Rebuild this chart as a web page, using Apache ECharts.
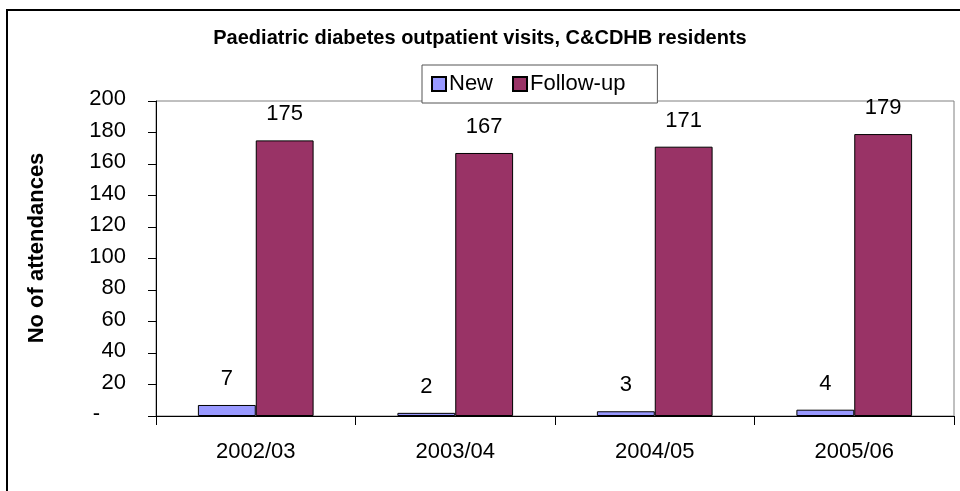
<!DOCTYPE html>
<html>
<head>
<meta charset="utf-8">
<title>Paediatric diabetes outpatient visits</title>
<script src="https://cdn.jsdelivr.net/npm/echarts@6/dist/echarts.min.js"></script>
<style>
  html, body { margin: 0; padding: 0; background: #fff; }
  #chart { width: 960px; height: 491px; }
</style>
</head>
<body>
<div id="chart"></div>
<script>
// Financial years on the category axis
const years = ['2002/03', '2003/04', '2004/05', '2005/06'];
// Attendances per year
const newVisits = [7, 2, 3, 4];
const followUpVisits = [175, 167, 171, 179];
// Value axis range
const yMin = 0;
const yMax = 200;
const yStep = 20;

const FONT = '"Liberation Sans", Arial, sans-serif';

const chart = echarts.init(document.getElementById('chart'), null, { renderer: 'canvas' });

const barLabel = {
  show: true,
  position: 'top',
  distance: 15,
  color: '#000',
  fontFamily: FONT,
  fontSize: 22
};

chart.setOption({
  animation: false,
  backgroundColor: '#fff',
  title: {
    text: 'Paediatric diabetes outpatient visits, C&CDHB residents',
    left: 'center',
    top: 28,
    padding: 0,
    textStyle: { fontFamily: FONT, fontSize: 20, fontWeight: 'bold', color: '#000' }
  },
  legend: {
    left: 422,
    top: 65,
    padding: [8, 32, 8, 9],
    itemGap: 19,
    itemWidth: 14,
    itemHeight: 14,
    icon: 'rect',
    backgroundColor: '#fff',
    borderColor: '#555',
    borderWidth: 1,
    textStyle: { fontFamily: FONT, fontSize: 22, color: '#000', padding: [0, 0, 0, -2] },
    data: ['New', 'Follow-up']
  },
  grid: {
    left: 156,
    right: 6,
    top: 101,
    bottom: 75,
    show: true,
    borderColor: '#808080',
    borderWidth: 1,
    backgroundColor: 'transparent'
  },
  xAxis: {
    type: 'category',
    data: years,
    axisLine: { show: true, lineStyle: { color: '#000', width: 1 } },
    axisTick: { show: true, length: 9, lineStyle: { color: '#000' } },
    axisLabel: { color: '#000', fontFamily: FONT, fontSize: 22, margin: 25 },
    splitLine: { show: false }
  },
  yAxis: {
    type: 'value',
    min: yMin,
    max: yMax,
    interval: yStep,
    axisLine: { show: true, lineStyle: { color: '#000', width: 1 } },
    axisTick: { show: true, length: 8, lineStyle: { color: '#000' } },
    axisLabel: {
      color: '#000',
      fontFamily: FONT,
      fontSize: 22,
      margin: 30,
      padding: [0, 0, 4, 0],
      formatter: function (v) { return v === 0 ? '{dash|-}' : String(v); },
      rich: { dash: { fontFamily: FONT, fontSize: 22, color: '#000', padding: [0, 26, 0, 0] } }
    },
    splitLine: { show: false }
  },
  series: [
    {
      name: 'New',
      type: 'bar',
      data: newVisits,
      barGap: '0%',
      barCategoryGap: '42%',
      itemStyle: { color: '#9999FF', borderColor: '#000', borderWidth: 1 },
      label: barLabel
    },
    {
      name: 'Follow-up',
      type: 'bar',
      data: followUpVisits,
      barGap: '0%',
      barCategoryGap: '42%',
      itemStyle: { color: '#993366', borderColor: '#000', borderWidth: 1 },
      label: barLabel
    }
  ],
  graphic: [
    {
      type: 'rect',
      silent: true,
      z: 100,
      shape: { x: 7, y: 10, width: 960, height: 490 },
      style: { fill: 'none', stroke: '#000', lineWidth: 2 }
    },
    {
      type: 'text',
      silent: true,
      x: 37,
      y: 248,
      rotation: Math.PI / 2,
      style: {
        text: 'No of attendances',
        fontFamily: FONT,
        fontSize: 22,
        fontWeight: 'bold',
        fill: '#000',
        align: 'center',
        verticalAlign: 'middle'
      }
    }
  ]
});
</script>
</body>
</html>
